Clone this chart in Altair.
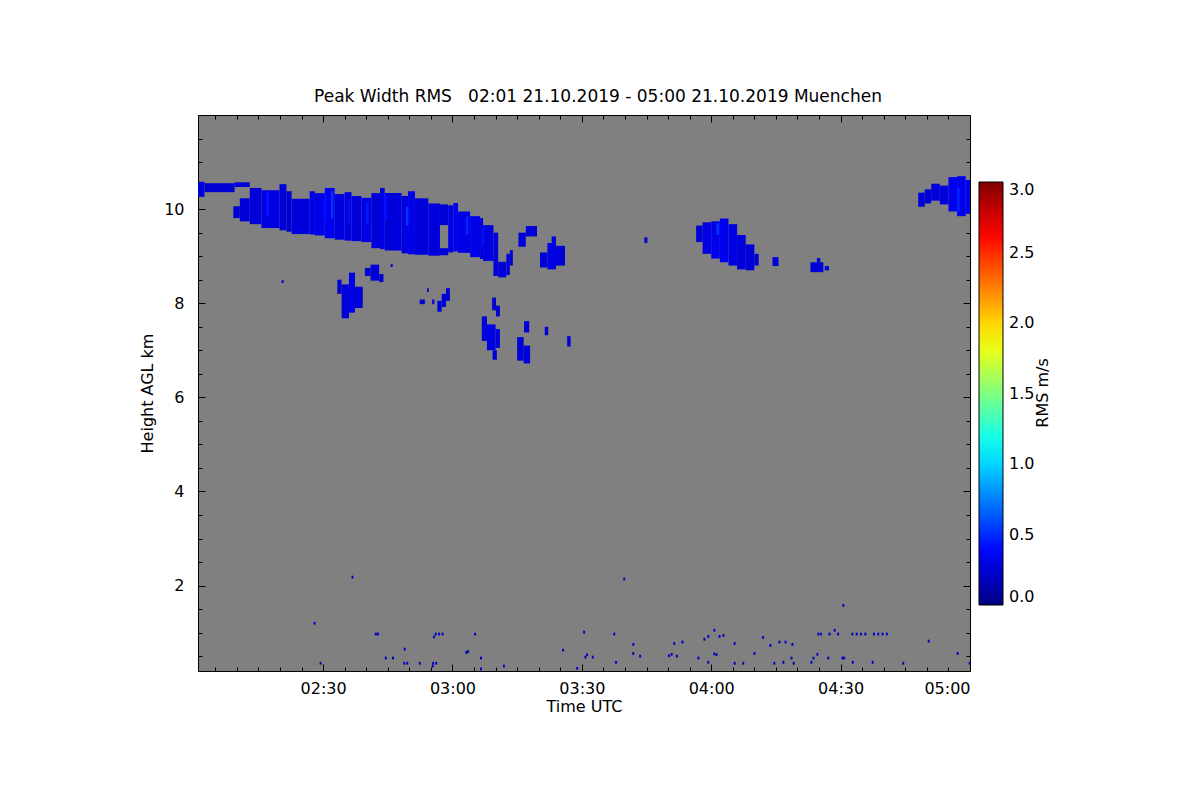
import altair as alt
import pandas as pd

# ---------------- data (minutes since 00:00 UTC, height km, RMS m/s) ----------------
band_a = [  # thin upper layer at the start
    (121.0, 122.5, 10.26, 10.58, 0.26),
    (122.5, 129.5, 10.36, 10.55, 0.24),
    (129.5, 133.0, 10.47, 10.57, 0.26),
]
main_cloud = [
    (129.2, 130.7, 9.81, 10.06, 0.25), (130.7, 133.0, 9.74, 10.23, 0.27),
    (133.0, 135.7, 9.68, 10.45, 0.26), (135.7, 139.9, 9.60, 10.40, 0.29),
    (139.9, 141.5, 9.55, 10.53, 0.27), (141.5, 142.7, 9.52, 10.38, 0.25),
    (142.7, 146.9, 9.47, 10.22, 0.27), (146.9, 148.1, 9.46, 10.38, 0.30),
    (148.1, 150.4, 9.44, 10.34, 0.31), (150.4, 152.7, 9.38, 10.45, 0.33),
    (152.7, 155.0, 9.35, 10.32, 0.28), (155.0, 156.6, 9.33, 10.36, 0.30),
    (156.6, 158.9, 9.32, 10.28, 0.26), (158.9, 161.2, 9.30, 10.24, 0.29),
    (161.2, 163.2, 9.17, 10.34, 0.26), (163.2, 164.3, 9.15, 10.45, 0.30),
    (164.3, 168.2, 9.12, 10.34, 0.27), (168.2, 169.7, 9.06, 10.28, 0.29),
    (169.7, 171.3, 9.04, 10.38, 0.31), (171.3, 174.4, 9.03, 10.23, 0.27),
    (174.4, 177.1, 9.01, 10.12, 0.28), (177.1, 179.0, 9.02, 9.17, 0.26),
    (177.1, 179.0, 9.66, 10.10, 0.26), (179.0, 180.2, 9.08, 10.08, 0.30),
    (180.2, 181.3, 9.10, 10.13, 0.32), (181.3, 184.1, 9.07, 9.95, 0.30),
    (184.1, 186.4, 8.98, 9.85, 0.31), (186.4, 187.1, 8.94, 9.81, 0.28),
    (187.1, 189.5, 8.90, 9.66, 0.28), (189.5, 190.6, 8.58, 9.50, 0.26),
    (190.6, 192.5, 8.55, 8.88, 0.26), (192.5, 193.3, 8.60, 9.05, 0.26),
    (193.3, 194.0, 8.80, 9.13, 0.26),
]
streaks = [
    (136.8, 137.4, 9.85, 10.35, 0.45), (150.2, 150.8, 9.75, 10.30, 0.42),
    (151.8, 152.4, 9.80, 10.38, 0.52), (155.8, 156.3, 9.70, 10.20, 0.42),
    (160.0, 160.6, 9.70, 10.15, 0.45), (164.2, 164.8, 9.75, 10.30, 0.42),
    (169.2, 169.8, 9.65, 10.05, 0.52), (183.1, 183.7, 9.45, 9.85, 0.48),
    (186.8, 187.4, 9.25, 9.60, 0.42), (241.2, 241.8, 9.45, 9.70, 0.52),
    (297.0, 297.6, 9.95, 10.45, 0.48),
]
mid_blobs = [
    (153.3, 154.3, 8.20, 8.50, 0.24), (154.3, 156.0, 7.68, 8.40, 0.26),
    (156.0, 157.4, 7.80, 8.65, 0.30), (157.4, 159.2, 7.90, 8.35, 0.26),
    (159.7, 161.0, 8.58, 8.75, 0.24), (161.0, 163.0, 8.48, 8.82, 0.26),
    (163.0, 164.0, 8.45, 8.62, 0.24),
    (172.4, 173.6, 7.98, 8.08, 0.25), (174.1, 174.5, 8.24, 8.32, 0.25),
    (175.3, 175.8, 7.98, 8.08, 0.25), (176.5, 177.5, 7.82, 8.05, 0.26),
    (177.5, 178.5, 7.92, 8.20, 0.26), (178.5, 179.4, 8.05, 8.32, 0.26),
    (189.2, 190.1, 7.85, 8.12, 0.24), (190.1, 191.0, 7.72, 7.95, 0.24),
    (186.8, 188.0, 7.20, 7.72, 0.26), (188.0, 190.0, 7.00, 7.55, 0.29),
    (190.0, 191.0, 7.05, 7.45, 0.26), (189.3, 190.3, 6.80, 7.00, 0.26),
    (195.0, 196.5, 6.78, 7.28, 0.26), (196.5, 198.0, 6.72, 7.10, 0.28),
    (196.6, 197.8, 7.38, 7.62, 0.26), (201.4, 202.2, 7.32, 7.50, 0.26),
    (206.6, 207.4, 7.08, 7.30, 0.26),
    (200.3, 202.0, 8.76, 9.08, 0.26), (202.0, 204.0, 8.72, 9.28, 0.29),
    (204.0, 206.1, 8.80, 9.22, 0.26), (203.0, 204.0, 9.28, 9.42, 0.26),
    (195.3, 197.0, 9.20, 9.50, 0.26), (197.0, 199.6, 9.42, 9.64, 0.26),
    (224.5, 225.2, 9.28, 9.40, 0.26),
]
cloud_0400 = [
    (236.5, 238.0, 9.30, 9.65, 0.26), (238.0, 240.0, 9.05, 9.72, 0.29),
    (240.0, 242.0, 8.95, 9.74, 0.32), (242.0, 244.0, 8.87, 9.80, 0.33),
    (244.0, 246.0, 8.80, 9.68, 0.29), (246.0, 248.0, 8.72, 9.45, 0.27),
    (248.0, 250.0, 8.70, 9.25, 0.26), (250.0, 251.0, 8.80, 9.05, 0.24),
    (254.2, 255.6, 8.79, 8.98, 0.26),
    (263.0, 266.0, 8.66, 8.87, 0.26), (264.5, 265.3, 8.87, 8.96, 0.26),
    (266.3, 267.3, 8.70, 8.79, 0.26),
]
cloud_end = [
    (288.0, 289.5, 10.05, 10.35, 0.26), (289.5, 291.0, 10.12, 10.42, 0.26),
    (291.0, 293.0, 10.18, 10.54, 0.28), (293.0, 295.0, 10.10, 10.50, 0.27),
    (295.0, 297.0, 9.95, 10.68, 0.32), (297.0, 299.0, 9.85, 10.70, 0.33),
    (299.0, 300.0, 9.90, 10.62, 0.31),
]
dot_t = [140.4, 165.7, 156.6, 147.8, 149.2, 162.0, 162.5, 164.3, 166.0, 168.7,
         168.6, 169.3, 172.2, 175.3, 176.0, 175.9, 176.7, 177.5, 175.5, 175.2,
         185.0, 183.0, 183.4, 186.4, 186.4, 191.7, 205.4, 208.7, 210.3, 210.6,
         211.0, 212.3, 219.6, 217.3, 217.7, 221.7, 221.7, 223.3, 230.0, 230.6,
         231.2, 231.8, 233.1, 236.8, 238.2, 239.1, 239.1, 240.5, 241.0, 240.5,
         241.7, 242.6, 245.2, 245.2, 247.2, 249.8, 251.8, 253.5, 254.4, 255.6,
         257.0, 256.5, 258.4, 258.6, 258.9, 263.0, 263.5, 264.4, 264.6, 265.2,
         266.9, 267.2, 268.4, 269.2, 270.4, 270.2, 270.6, 272.6, 272.5, 273.5,
         274.5, 275.5, 277.5, 278.5, 279.5, 280.5, 277.2, 284.3, 290.2, 296.9,
         299.7]
dot_h = [8.43, 8.77, 2.15, 1.17, 0.32, 0.94, 0.94, 0.43, 0.43, 0.62,
         0.32, 0.32, 0.32, 0.32, 0.32, 0.94, 0.94, 0.94, 0.88, 0.26,
         0.94, 0.55, 0.57, 0.43, 0.20, 0.26, 0.60, 0.21, 0.98, 0.45,
         0.50, 0.45, 2.11, 0.94, 0.34, 0.72, 0.53, 0.47, 0.48, 0.51,
         0.74, 0.47, 0.77, 0.43, 0.83, 0.89, 0.34, 0.52, 0.50, 1.02,
         0.89, 0.91, 0.74, 0.32, 0.32, 0.53, 0.87, 0.70, 0.32, 0.77,
         0.77, 0.34, 0.43, 0.72, 0.32, 0.34, 0.43, 0.51, 0.94, 0.94,
         0.43, 0.94, 1.02, 0.94, 1.55, 0.43, 0.43, 0.34, 0.94, 0.94,
         0.94, 0.94, 0.94, 0.94, 0.94, 0.94, 0.34, 0.32, 0.79, 0.53,
         0.32]
dot_rms = 0.2

x_label_ticks = [150, 180, 210, 240, 270, 300]
x_all_ticks = [125, 130, 135, 140, 145, 150, 155, 160, 165, 170, 175, 180, 185,
               190, 195, 200, 205, 210, 215, 220, 225, 230, 235, 240, 245, 250,
               255, 260, 265, 270, 275, 280, 285, 290, 295, 300]
y_label_ticks = [2, 4, 6, 8, 10]
y_all_ticks = [0.5, 1, 1.5, 2, 2.5, 3, 3.5, 4, 4.5, 5, 5.5, 6, 6.5, 7, 7.5, 8,
               8.5, 9, 9.5, 10, 10.5, 11, 11.5]
legend_ticks = [0.0, 0.5, 1.0, 1.5, 2.0, 2.5, 3.0]
legend_title = ["RMS m/s"]
chart_title = "Peak Width RMS\u00a0\u00a0\u00a002:01 21.10.2019 - 05:00 21.10.2019 Muenchen"

jet_domain = [0, 0.375, 1.125, 1.875, 2.625, 3.0]
jet_colors = ["#000080", "#0000ff", "#00ffff", "#ffff00", "#ff0000", "#800000"]

# ---------------- table ----------------
cols = ["t0", "t1", "h0", "h1", "rms"]
rows = band_a + main_cloud + mid_blobs + cloud_0400 + cloud_end + streaks
df = pd.DataFrame(rows, columns=cols)
dots = pd.DataFrame({"t0": dot_t, "h0": dot_h})
dots["t1"] = dots["t0"] + 0.45
dots["h1"] = dots["h0"] + 0.06
dots["rms"] = dot_rms
df = pd.concat([df, dots[cols]], ignore_index=True)

FONT = "DejaVu Sans"
W, H = 772, 556
xs = alt.Scale(domain=[121, 300], nice=False, zero=False)
ys = alt.Scale(domain=[0.185, 12], nice=False, zero=False)
cs = alt.Scale(domain=jet_domain, range=jet_colors, interpolate="rgb")

x_label_expr = "format(floor(datum.value/60),'02d') + ':' + format(datum.value%60,'02d')"

axis_x_main = alt.Axis(orient="bottom", values=x_label_ticks, labelExpr=x_label_expr,
                       ticks=False, grid=False, domain=True, domainColor="black",
                       labelFont=FONT, labelFontSize=16, labelColor="black",
                       labelPadding=9, title="Time UTC", titleFont=FONT,
                       titleFontSize=16, titleFontWeight="normal", titleColor="black",
                       titlePadding=2)
axis_y_main = alt.Axis(orient="left", values=y_label_ticks, format="d",
                       ticks=False, grid=False, domain=True, domainColor="black",
                       labelFont=FONT, labelFontSize=16, labelColor="black",
                       labelPadding=14, title="Height AGL km", titleFont=FONT,
                       titleFontSize=16, titleFontWeight="normal", titleColor="black",
                       titlePadding=8)

x_tick_size = {"condition": {"test": "datum.value % 30 === 0", "value": 7}, "value": 4}
y_tick_size = {"condition": {"test": "datum.value % 2 === 0", "value": 7}, "value": 4}

axis_x_in_bottom = alt.Axis(orient="top", offset=-H, values=x_all_ticks, labels=False,
                            domain=False, grid=False, ticks=True, tickColor="black",
                            tickSize=x_tick_size, title=None)
axis_y_in_left = alt.Axis(orient="right", offset=-W, values=y_all_ticks, labels=False,
                          domain=False, grid=False, ticks=True, tickColor="black",
                          tickSize=y_tick_size, title=None)
axis_x_in_top = alt.Axis(orient="bottom", offset=-H, values=x_all_ticks, labels=False,
                         domain=True, domainColor="black", grid=False, ticks=True,
                         tickColor="black", tickSize=x_tick_size, title=None)
axis_y_in_right = alt.Axis(orient="left", offset=-W, values=y_all_ticks, labels=False,
                           domain=True, domainColor="black", grid=False, ticks=True,
                           tickColor="black", tickSize=y_tick_size, title=None)

legend = alt.Legend(type="gradient", orient="none", legendX=781, legendY=67,
                    direction="vertical", gradientLength=423, gradientThickness=24,
                    gradientStrokeColor="black", gradientStrokeWidth=1,
                    values=legend_ticks, format=".1f", labelFont=FONT,
                    labelFontSize=16, labelColor="black", labelOffset=6,
                    title=None)

base = alt.Chart(df)
cells = base.mark_rect(strokeWidth=0).encode(
    x=alt.X("t0:Q", scale=xs, axis=axis_x_main),
    x2="t1:Q",
    y=alt.Y("h0:Q", scale=ys, axis=axis_y_main),
    y2="h1:Q",
    color=alt.Color("rms:Q", scale=cs, legend=legend),
)
ticks_a = base.mark_point(opacity=0).encode(
    x=alt.X("t0:Q", scale=xs, axis=axis_x_in_bottom),
    y=alt.Y("h0:Q", scale=ys, axis=axis_y_in_left),
)
ticks_b = base.mark_point(opacity=0).encode(
    x=alt.X("t0:Q", scale=xs, axis=axis_x_in_top),
    y=alt.Y("h0:Q", scale=ys, axis=axis_y_in_right),
)
cbar_title = alt.Chart(pd.DataFrame({"txt": legend_title})).mark_text(
    angle=270, font=FONT, fontSize=16, color="black", align="center",
    baseline="middle",
).encode(x=alt.value(845), y=alt.value(278), text="txt:N")

chart = alt.layer(cells, ticks_a, ticks_b, cbar_title).resolve_axis(
    x="independent", y="independent"
).properties(
    width=W, height=H,
    background="white",
    autosize=alt.AutoSizeParams(type="none"),
    padding={"left": 190, "top": 107, "right": 180, "bottom": 100},
    title=alt.TitleParams(
        chart_title,
        font=FONT, fontSize=17, fontWeight="normal", color="black",
        anchor="middle", dx=14, offset=9),
).configure_view(fill="#808080", stroke=None)

chart.save("out.html", embed_options={"renderer": "svg", "actions": False})
